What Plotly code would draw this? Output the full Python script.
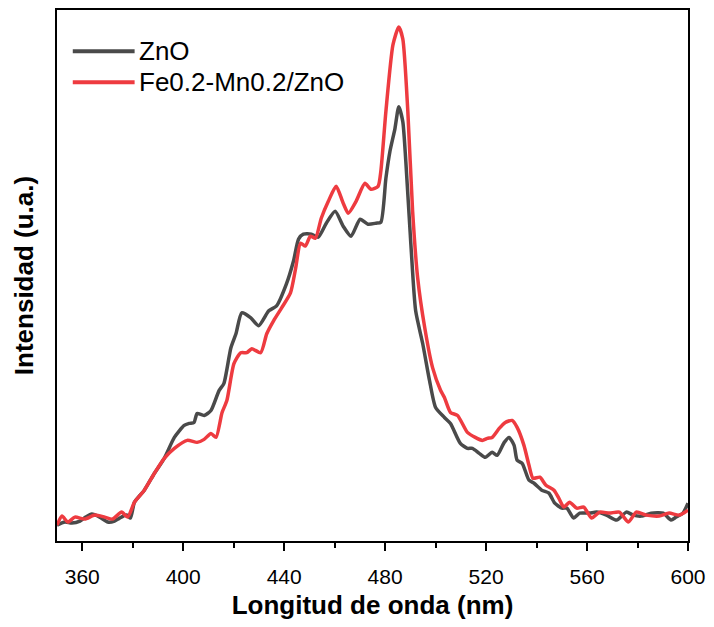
import plotly.graph_objects as go

# ---- data ----
zno_wl = [350.0, 353.1, 355.9, 359.1, 361.4, 363.8, 366.9, 370.1, 372.8, 374.8, 377.6, 379.1,
          380.7, 384.6, 388.6, 392.5, 396.5, 400.4, 402.4, 404.3, 405.5, 408.3, 411.0, 414.2,
          416.1, 418.9, 420.9, 423.2, 426.8, 429.9, 433.9, 437.0, 440.9, 443.7, 445.7, 447.6,
          450.8, 453.5, 456.7, 460.2, 463.4, 466.5, 470.1, 473.2, 476.4, 478.3, 480.3, 481.9,
          483.9, 485.4, 487.0, 488.2, 490.2, 492.1, 494.9, 497.6, 500.0, 503.5, 505.9, 509.8,
          512.6, 514.6, 517.3, 519.7, 522.4, 524.4, 527.2, 529.1, 531.1, 532.3, 534.3, 537.0,
          539.0, 542.1, 544.9, 547.2, 550.0, 552.0, 554.7, 557.1, 561.0, 563.8, 567.7, 571.7,
          575.6, 578.3, 581.5, 585.4, 590.2, 593.3, 595.3, 598.0, 600.0]
zno_int = [16, 19, 18, 20, 24, 27, 24, 19, 20, 23, 26, 23,
           39, 51, 68, 83, 104, 116, 118, 119, 128, 126, 131, 151,
           158, 194, 208, 229, 224, 216, 231, 236, 258, 281, 303, 308,
           308, 305, 319, 331, 316, 306, 323, 318, 319, 320, 364, 391,
           414, 436, 421, 381, 298, 231, 198, 161, 134, 124, 118, 98,
           93, 93, 88, 84, 89, 86, 99, 104, 96, 81, 78, 61,
           58, 51, 48, 38, 33, 33, 23, 28, 28, 29, 26, 21,
           29, 26, 25, 28, 28, 21, 24, 28, 38]

femn_wl = [350.0, 352.0, 354.3, 357.1, 361.0, 365.0, 368.9, 372.0, 375.6, 378.0, 380.7, 384.6,
           388.6, 392.5, 396.5, 401.6, 405.5, 408.3, 411.0, 413.0, 415.4, 417.3, 420.1, 422.8,
           425.2, 427.2, 430.7, 433.1, 435.8, 439.0, 442.5, 444.5, 446.5, 448.4, 450.4, 452.4,
           454.7, 457.5, 460.6, 463.4, 465.4, 468.5, 472.0, 474.4, 477.2, 478.3, 480.3, 483.1,
           485.4, 487.0, 489.0, 490.9, 492.9, 495.7, 498.8, 502.0, 503.5, 505.9, 508.7, 512.6,
           515.7, 518.5, 520.5, 522.4, 525.2, 527.6, 530.3, 532.3, 535.0, 537.0, 538.6, 541.3,
           543.7, 546.9, 548.8, 550.8, 553.1, 555.9, 558.7, 561.8, 565.0, 568.9, 572.8, 576.4,
           579.5, 583.5, 588.6, 592.5, 596.5, 600.0]
femn_int = [16, 25, 19, 24, 22, 26, 24, 22, 29, 24, 39, 51,
            68, 83, 93, 101, 99, 102, 108, 104, 129, 141, 178, 189,
            189, 193, 189, 208, 221, 234, 249, 273, 299, 296, 306, 304,
            324, 341, 356, 339, 329, 341, 359, 353, 356, 371, 431, 498,
            516, 504, 431, 331, 264, 214, 174, 151, 144, 129, 126, 109,
            104, 101, 103, 104, 113, 119, 121, 114, 96, 76, 63, 64,
            56, 51, 43, 34, 39, 33, 34, 23, 29, 28, 29, 19,
            29, 26, 25, 28, 26, 31]

names = ["ZnO", "Fe0.2-Mn0.2/ZnO"]
colors = ["#4a4a4a", "#ee3b40"]
tick_vals = [360, 400, 440, 480, 520, 560, 600]
tick_text = ["360", "400", "440", "480", "520", "560", "600"]

FONT = "Liberation Sans, Arial, sans-serif"

fig = go.Figure()
for wl, inten, nm, col in [(zno_wl, zno_int, names[0], colors[0]),
                           (femn_wl, femn_int, names[1], colors[1])]:
    fig.add_trace(go.Scatter(x=wl, y=inten, mode="lines", name=nm,
                             line=dict(color=col, width=3.5, shape="spline", smoothing=0.6),
                             showlegend=False))

# manual legend (long line samples as in the reference)
leg_y = [0.9225, 0.864]
for i in range(2):
    fig.add_shape(type="line", xref="paper", yref="paper",
                  x0=0.025, x1=0.123, y0=leg_y[i], y1=leg_y[i],
                  line=dict(color=colors[i], width=4))
    fig.add_annotation(xref="paper", yref="paper", x=0.126, y=leg_y[i],
                       text=names[i], showarrow=False, xanchor="left", yanchor="middle",
                       font=dict(family=FONT, size=26, color="black"))

fig.update_layout(
    width=714, height=627,
    margin=dict(l=57, r=22, t=8, b=86),
    paper_bgcolor="white", plot_bgcolor="white",
    font=dict(family=FONT, color="black"),
    xaxis=dict(range=[350, 600], tickvals=tick_vals, ticktext=tick_text,
               ticks="outside", ticklen=8, tickwidth=2, tickcolor="black",
               minor=dict(tickvals=[380, 420, 460, 500, 540, 580], ticks="outside",
                          ticklen=5, tickwidth=2, tickcolor="black"),
               showline=True, linecolor="black", linewidth=2, mirror=True,
               showgrid=False, zeroline=False, ticklabelstandoff=8,
               tickfont=dict(family=FONT, size=21),
               title=dict(text="<b>Longitud de onda (nm)</b>",
                          font=dict(family=FONT, size=26), standoff=9)),
    yaxis=dict(range=[0, 533], showticklabels=False, ticks="",
               showline=True, linecolor="black", linewidth=2, mirror=True,
               showgrid=False, zeroline=False,
               title=dict(text="<b>Intensidad (u.a.)</b>",
                          font=dict(family=FONT, size=26), standoff=14)),
)

fig.write_html("out.html")
